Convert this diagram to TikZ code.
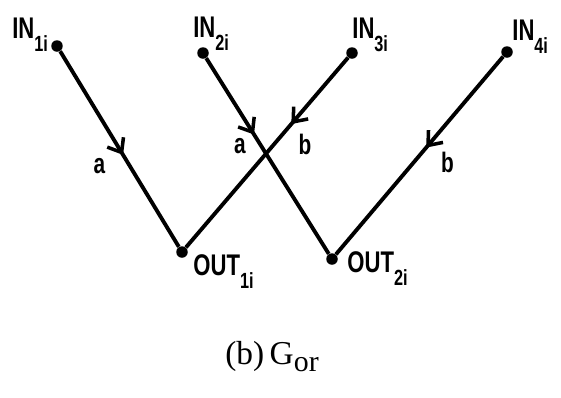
\documentclass[tikz,border=0pt]{standalone}
\usepackage{fontspec}
\setmainfont{Liberation Serif}
\newfontfamily\gfont[FakeStretch=0.74]{Liberation Sans}
\usetikzlibrary{arrows.meta,decorations.markings}

\newcommand{\pinname}[2]{#1\raisebox{-7.5pt}{\fontsize{12.5}{13}\selectfont #2}}

\tikzset{
  pin/.style={circle,fill=black,inner sep=0pt,minimum size=0.23cm},
  wire/.style={line width=2.2pt,postaction={decorate},
    decoration={markings,mark=at position #1 with {\arrow{Straight Barb[length=0.24cm,width=0.38cm,line width=2pt]}}}},
  tag/.style={font=\gfont\bfseries\fontsize{17}{19}\selectfont,inner sep=0pt},
  edgetag/.style={font=\gfont\bfseries\fontsize{16}{18}\selectfont,inner sep=1pt}
}

\begin{document}
\begin{tikzpicture}[x=0.02cm,y=-0.02cm]
\useasboundingbox (0,0) rectangle (561,397);
% inputs
\node[pin] (in1) at (57,46) {};
\node[pin] (in2) at (203,53) {};
\node[pin] (in3) at (352,53) {};
\node[pin] (in4) at (507,52) {};
% outputs
\node[pin] (out1) at (182,252) {};
\node[pin] (out2) at (332,259) {};
% names
\node[tag,anchor=base west] (n1) at (12,38) {\pinname{IN}{1i}};
\node[tag,anchor=base west] (n2) at (193,37) {\pinname{IN}{2i}};
\node[tag,anchor=base west] (n3) at (352,38) {\pinname{IN}{3i}};
\node[tag,anchor=base west] (n4) at (512,40) {\pinname{IN}{4i}};
\node[tag,anchor=base west] (n5) at (193,275) {\pinname{OUT}{1i}};
\node[tag,anchor=base west] (n6) at (347,272) {\pinname{OUT}{2i}};
% wires
\draw[wire=0.53] (in1) -- node[edgetag,pos=0.587,left=0.42cm] (la) {a} (out1);
\draw[wire=0.39] (in2) -- node[edgetag,pos=0.451,left=0.24cm] (lb) {a} (out2);
\draw[wire=0.35] (in3) -- node[edgetag,pos=0.457,right=0.42cm] (lc) {b} (out1);
\draw[wire=0.46] (in4) -- node[edgetag,pos=0.536,right=0.48cm] (ld) {b} (out2);
% caption
\node[font=\fontsize{19}{21}\selectfont,anchor=base] (cap) at (272,364) {(b)\,G\raisebox{-4.5pt}{\fontsize{17}{18}\selectfont or}};
\end{tikzpicture}
\end{document}
